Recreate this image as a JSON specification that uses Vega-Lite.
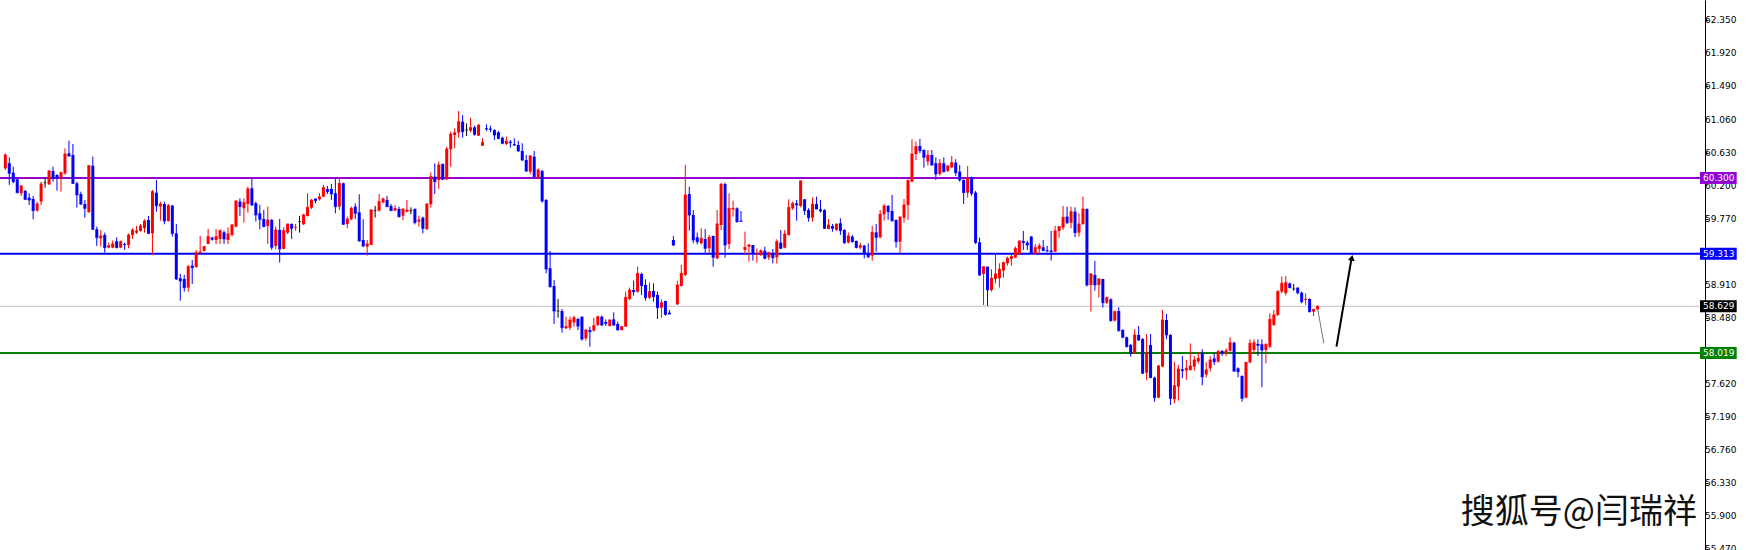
{
"$schema":"https://vega.github.io/schema/vega-lite/v6.json",
"width":1705,"height":550,
"autosize":{"type":"none"},
"padding":{"left":0,"top":0,"right":41,"bottom":0},
"background":"#FFFFFF",
"config":{"view":{"stroke":null}},
"datasets":{
"levels":[{"level":"60.300","p":60.3},{"level":"59.313","p":59.313},{"level":"58.629","p":58.629},{"level":"58.019","p":58.019}],
"ticks":[{"p":62.35},{"p":61.92},{"p":61.49},{"p":61.06},{"p":60.63},{"p":60.2},{"p":59.77},{"p":58.91},{"p":58.48},{"p":57.62},{"p":57.19},{"p":56.76},{"p":56.33},{"p":55.9},{"p":55.47}],
"candles":[
{"i":0,"o":60.425,"h":60.62,"l":60.403,"c":60.598},
{"i":1,"o":60.49,"h":60.568,"l":60.208,"c":60.36},
{"i":2,"o":60.368,"h":60.446,"l":60.229,"c":60.251},
{"i":3,"o":60.282,"h":60.294,"l":60.099,"c":60.108},
{"i":4,"o":60.099,"h":60.203,"l":60.065,"c":60.195},
{"i":5,"o":60.13,"h":60.143,"l":60.012,"c":60.021},
{"i":6,"o":60.043,"h":60.099,"l":59.947,"c":60.012},
{"i":7,"o":60.025,"h":60.065,"l":59.761,"c":59.874},
{"i":8,"o":59.874,"h":59.991,"l":59.86,"c":59.96},
{"i":9,"o":59.991,"h":60.251,"l":59.947,"c":60.221},
{"i":10,"o":60.238,"h":60.308,"l":60.173,"c":60.238},
{"i":11,"o":60.216,"h":60.403,"l":60.208,"c":60.39},
{"i":12,"o":60.39,"h":60.446,"l":60.251,"c":60.294},
{"i":13,"o":60.338,"h":60.347,"l":60.134,"c":60.308},
{"i":14,"o":60.303,"h":60.381,"l":60.121,"c":60.368},
{"i":15,"o":60.36,"h":60.685,"l":60.338,"c":60.611},
{"i":16,"o":60.62,"h":60.785,"l":60.577,"c":60.585},
{"i":17,"o":60.598,"h":60.741,"l":60.221,"c":60.229},
{"i":18,"o":60.229,"h":60.251,"l":59.913,"c":60.078},
{"i":19,"o":60.091,"h":60.121,"l":59.947,"c":59.96},
{"i":20,"o":59.96,"h":60.012,"l":59.782,"c":59.904},
{"i":21,"o":59.852,"h":60.468,"l":59.848,"c":60.459},
{"i":22,"o":60.459,"h":60.577,"l":59.622,"c":59.631},
{"i":23,"o":59.631,"h":59.665,"l":59.414,"c":59.522},
{"i":24,"o":59.513,"h":59.622,"l":59.405,"c":59.544},
{"i":25,"o":59.557,"h":59.587,"l":59.327,"c":59.392},
{"i":26,"o":59.392,"h":59.457,"l":59.383,"c":59.418},
{"i":27,"o":59.392,"h":59.483,"l":59.383,"c":59.44},
{"i":28,"o":59.474,"h":59.526,"l":59.383,"c":59.392},
{"i":29,"o":59.392,"h":59.483,"l":59.383,"c":59.47},
{"i":30,"o":59.44,"h":59.457,"l":59.361,"c":59.431},
{"i":31,"o":59.427,"h":59.578,"l":59.383,"c":59.557},
{"i":32,"o":59.557,"h":59.644,"l":59.505,"c":59.622},
{"i":33,"o":59.587,"h":59.674,"l":59.57,"c":59.609},
{"i":34,"o":59.609,"h":59.7,"l":59.6,"c":59.674},
{"i":35,"o":59.644,"h":59.761,"l":59.587,"c":59.739},
{"i":36,"o":59.752,"h":59.804,"l":59.57,"c":59.578},
{"i":37,"o":59.578,"h":60.143,"l":59.296,"c":60.121},
{"i":38,"o":60.108,"h":60.273,"l":59.86,"c":59.939},
{"i":39,"o":59.926,"h":59.991,"l":59.743,"c":59.96},
{"i":40,"o":59.96,"h":59.991,"l":59.696,"c":59.739},
{"i":41,"o":59.739,"h":59.96,"l":59.73,"c":59.939},
{"i":42,"o":59.939,"h":59.947,"l":59.535,"c":59.578},
{"i":43,"o":59.578,"h":59.7,"l":58.971,"c":58.984},
{"i":44,"o":58.993,"h":59.049,"l":58.702,"c":58.958},
{"i":45,"o":58.984,"h":59.036,"l":58.819,"c":58.871},
{"i":46,"o":58.871,"h":59.166,"l":58.819,"c":59.144},
{"i":47,"o":59.158,"h":59.231,"l":58.919,"c":59.131},
{"i":48,"o":59.136,"h":59.361,"l":59.136,"c":59.327},
{"i":49,"o":59.318,"h":59.544,"l":59.318,"c":59.335},
{"i":50,"o":59.349,"h":59.414,"l":59.34,"c":59.405},
{"i":51,"o":59.44,"h":59.635,"l":59.44,"c":59.535},
{"i":52,"o":59.522,"h":59.535,"l":59.483,"c":59.501},
{"i":53,"o":59.492,"h":59.631,"l":59.436,"c":59.535},
{"i":54,"o":59.505,"h":59.631,"l":59.44,"c":59.613},
{"i":55,"o":59.592,"h":59.613,"l":59.44,"c":59.505},
{"i":56,"o":59.492,"h":59.657,"l":59.44,"c":59.57},
{"i":57,"o":59.557,"h":59.7,"l":59.535,"c":59.687},
{"i":58,"o":59.666,"h":60.004,"l":59.657,"c":60.0},
{"i":59,"o":59.991,"h":60.034,"l":59.804,"c":59.926},
{"i":60,"o":59.904,"h":60.034,"l":59.718,"c":59.978},
{"i":61,"o":59.961,"h":60.186,"l":59.848,"c":60.156},
{"i":62,"o":60.165,"h":60.295,"l":59.935,"c":59.948},
{"i":63,"o":59.969,"h":59.991,"l":59.731,"c":59.818},
{"i":64,"o":59.839,"h":59.948,"l":59.631,"c":59.761},
{"i":65,"o":59.765,"h":59.883,"l":59.657,"c":59.666},
{"i":66,"o":59.674,"h":59.926,"l":59.44,"c":59.752},
{"i":67,"o":59.752,"h":59.765,"l":59.362,"c":59.397},
{"i":68,"o":59.414,"h":59.666,"l":59.371,"c":59.622},
{"i":69,"o":59.622,"h":59.765,"l":59.197,"c":59.375},
{"i":70,"o":59.375,"h":59.657,"l":59.371,"c":59.613},
{"i":71,"o":59.587,"h":59.7,"l":59.57,"c":59.7},
{"i":72,"o":59.7,"h":59.709,"l":59.505,"c":59.644},
{"i":73,"o":59.653,"h":59.7,"l":59.613,"c":59.657},
{"i":74,"o":59.731,"h":59.804,"l":59.587,"c":59.731},
{"i":75,"o":59.696,"h":59.831,"l":59.687,"c":59.818},
{"i":76,"o":59.804,"h":60.1,"l":59.796,"c":59.917},
{"i":77,"o":59.913,"h":60.021,"l":59.896,"c":60.013},
{"i":78,"o":60.03,"h":60.034,"l":59.969,"c":60.004},
{"i":79,"o":60.021,"h":60.1,"l":60.004,"c":60.052},
{"i":80,"o":60.056,"h":60.208,"l":60.047,"c":60.173},
{"i":81,"o":60.156,"h":60.195,"l":60.091,"c":60.121},
{"i":82,"o":60.156,"h":60.221,"l":60.013,"c":60.091},
{"i":83,"o":60.1,"h":60.308,"l":59.839,"c":59.926},
{"i":84,"o":59.926,"h":60.308,"l":59.883,"c":60.23},
{"i":85,"o":60.23,"h":60.238,"l":59.687,"c":59.696},
{"i":86,"o":59.7,"h":59.796,"l":59.644,"c":59.765},
{"i":87,"o":59.761,"h":59.926,"l":59.752,"c":59.904},
{"i":88,"o":59.926,"h":59.969,"l":59.765,"c":59.839},
{"i":89,"o":59.852,"h":60.087,"l":59.47,"c":59.479},
{"i":90,"o":59.492,"h":59.761,"l":59.397,"c":59.414},
{"i":91,"o":59.405,"h":59.492,"l":59.288,"c":59.44},
{"i":92,"o":59.427,"h":59.891,"l":59.427,"c":59.883},
{"i":93,"o":59.874,"h":59.935,"l":59.783,"c":59.874},
{"i":94,"o":59.874,"h":60.091,"l":59.861,"c":59.991},
{"i":95,"o":59.982,"h":60.043,"l":59.969,"c":60.026},
{"i":96,"o":60.013,"h":60.065,"l":59.917,"c":59.926},
{"i":97,"o":59.935,"h":59.961,"l":59.87,"c":59.874},
{"i":98,"o":59.874,"h":59.948,"l":59.87,"c":59.9},
{"i":99,"o":59.896,"h":59.926,"l":59.783,"c":59.796},
{"i":100,"o":59.808,"h":59.903,"l":59.752,"c":59.895},
{"i":101,"o":59.86,"h":60.012,"l":59.851,"c":59.882},
{"i":102,"o":59.873,"h":59.916,"l":59.825,"c":59.873},
{"i":103,"o":59.895,"h":59.903,"l":59.695,"c":59.721},
{"i":104,"o":59.73,"h":59.808,"l":59.665,"c":59.752},
{"i":105,"o":59.782,"h":59.795,"l":59.578,"c":59.643},
{"i":106,"o":59.634,"h":59.969,"l":59.621,"c":59.96},
{"i":107,"o":59.955,"h":60.372,"l":59.912,"c":60.316},
{"i":108,"o":60.316,"h":60.489,"l":60.09,"c":60.251},
{"i":109,"o":60.272,"h":60.511,"l":60.155,"c":60.468},
{"i":110,"o":60.481,"h":60.489,"l":60.272,"c":60.281},
{"i":111,"o":60.281,"h":60.706,"l":60.272,"c":60.676},
{"i":112,"o":60.672,"h":60.902,"l":60.446,"c":60.871},
{"i":113,"o":60.858,"h":60.945,"l":60.685,"c":60.889},
{"i":114,"o":60.889,"h":61.171,"l":60.823,"c":61.032},
{"i":115,"o":61.032,"h":61.119,"l":60.823,"c":60.902},
{"i":116,"o":60.923,"h":61.01,"l":60.845,"c":60.923},
{"i":117,"o":60.915,"h":61.084,"l":60.893,"c":60.954},
{"i":118,"o":60.958,"h":60.98,"l":60.85,"c":60.867},
{"i":119,"o":60.85,"h":60.997,"l":60.845,"c":60.988},
{"i":120,"o":60.719,"h":60.815,"l":60.719,"c":60.763},
{"i":121,"o":60.945,"h":60.997,"l":60.91,"c":60.936},
{"i":122,"o":60.941,"h":60.98,"l":60.893,"c":60.932},
{"i":123,"o":60.923,"h":60.936,"l":60.793,"c":60.858},
{"i":124,"o":60.893,"h":60.91,"l":60.802,"c":60.815},
{"i":125,"o":60.823,"h":60.837,"l":60.737,"c":60.75},
{"i":126,"o":60.741,"h":60.837,"l":60.728,"c":60.78},
{"i":127,"o":60.771,"h":60.793,"l":60.693,"c":60.758},
{"i":128,"o":60.737,"h":60.815,"l":60.715,"c":60.728},
{"i":129,"o":60.728,"h":60.784,"l":60.641,"c":60.65},
{"i":130,"o":60.65,"h":60.75,"l":60.52,"c":60.533},
{"i":131,"o":60.533,"h":60.598,"l":60.381,"c":60.389},
{"i":132,"o":60.381,"h":60.598,"l":60.346,"c":60.585},
{"i":133,"o":60.576,"h":60.65,"l":60.303,"c":60.316},
{"i":134,"o":60.303,"h":60.424,"l":60.285,"c":60.403},
{"i":135,"o":60.389,"h":60.403,"l":59.977,"c":59.999},
{"i":136,"o":60.012,"h":60.025,"l":59.057,"c":59.114},
{"i":137,"o":59.123,"h":59.348,"l":58.871,"c":58.884},
{"i":138,"o":58.892,"h":58.97,"l":58.397,"c":58.567},
{"i":139,"o":58.567,"h":58.723,"l":58.48,"c":58.567},
{"i":140,"o":58.567,"h":58.593,"l":58.285,"c":58.35},
{"i":141,"o":58.341,"h":58.493,"l":58.332,"c":58.363},
{"i":142,"o":58.35,"h":58.493,"l":58.319,"c":58.45},
{"i":143,"o":58.419,"h":58.506,"l":58.363,"c":58.48},
{"i":144,"o":58.463,"h":58.48,"l":58.319,"c":58.371},
{"i":145,"o":58.493,"h":58.493,"l":58.18,"c":58.202},
{"i":146,"o":58.211,"h":58.332,"l":58.18,"c":58.319},
{"i":147,"o":58.319,"h":58.363,"l":58.102,"c":58.298},
{"i":148,"o":58.311,"h":58.48,"l":58.298,"c":58.376},
{"i":149,"o":58.384,"h":58.506,"l":58.371,"c":58.493},
{"i":150,"o":58.493,"h":58.506,"l":58.372,"c":58.385},
{"i":151,"o":58.424,"h":58.458,"l":58.372,"c":58.406},
{"i":152,"o":58.372,"h":58.458,"l":58.363,"c":58.45},
{"i":153,"o":58.458,"h":58.549,"l":58.372,"c":58.385},
{"i":154,"o":58.398,"h":58.428,"l":58.319,"c":58.319},
{"i":155,"o":58.319,"h":58.37,"l":58.315,"c":58.363},
{"i":156,"o":58.363,"h":58.818,"l":58.363,"c":58.745},
{"i":157,"o":58.723,"h":58.871,"l":58.71,"c":58.84},
{"i":158,"o":58.84,"h":58.962,"l":58.766,"c":58.818},
{"i":159,"o":58.818,"h":59.144,"l":58.805,"c":59.057},
{"i":160,"o":59.049,"h":59.066,"l":58.775,"c":58.897},
{"i":161,"o":58.905,"h":58.979,"l":58.701,"c":58.74},
{"i":162,"o":58.74,"h":58.936,"l":58.723,"c":58.818},
{"i":163,"o":58.827,"h":58.927,"l":58.688,"c":58.753},
{"i":164,"o":58.775,"h":58.818,"l":58.463,"c":58.61},
{"i":165,"o":58.61,"h":58.719,"l":58.48,"c":58.675},
{"i":166,"o":58.697,"h":58.701,"l":58.506,"c":58.523},
{"i":167,"o":58.545,"h":58.58,"l":58.523,"c":58.528},
{"i":168,"o":59.491,"h":59.543,"l":59.413,"c":59.426},
{"i":169,"o":58.654,"h":58.962,"l":58.645,"c":58.905},
{"i":170,"o":58.892,"h":59.166,"l":58.884,"c":59.057},
{"i":171,"o":59.036,"h":60.468,"l":59.023,"c":60.077},
{"i":172,"o":60.09,"h":60.186,"l":59.613,"c":59.817},
{"i":173,"o":59.817,"h":59.882,"l":59.448,"c":59.491},
{"i":174,"o":59.526,"h":59.587,"l":59.435,"c":59.47},
{"i":175,"o":59.448,"h":59.643,"l":59.435,"c":59.513},
{"i":176,"o":59.504,"h":59.634,"l":59.326,"c":59.383},
{"i":177,"o":59.383,"h":59.556,"l":59.318,"c":59.526},
{"i":178,"o":59.543,"h":59.548,"l":59.144,"c":59.266},
{"i":179,"o":59.253,"h":59.882,"l":59.24,"c":59.7},
{"i":180,"o":59.687,"h":60.229,"l":59.621,"c":60.22},
{"i":181,"o":60.22,"h":60.238,"l":59.261,"c":59.426},
{"i":182,"o":59.439,"h":60.099,"l":59.374,"c":59.903},
{"i":183,"o":59.89,"h":60.003,"l":59.795,"c":59.903},
{"i":184,"o":59.903,"h":59.916,"l":59.717,"c":59.73},
{"i":185,"o":59.743,"h":59.869,"l":59.73,"c":59.734},
{"i":186,"o":59.361,"h":59.6,"l":59.305,"c":59.396},
{"i":187,"o":59.404,"h":59.439,"l":59.209,"c":59.426},
{"i":188,"o":59.426,"h":59.426,"l":59.222,"c":59.326},
{"i":189,"o":59.309,"h":59.383,"l":59.196,"c":59.318},
{"i":190,"o":59.296,"h":59.37,"l":59.283,"c":59.352},
{"i":191,"o":59.352,"h":59.404,"l":59.24,"c":59.253},
{"i":192,"o":59.266,"h":59.339,"l":59.231,"c":59.326},
{"i":193,"o":59.309,"h":59.374,"l":59.187,"c":59.261},
{"i":194,"o":59.266,"h":59.5,"l":59.187,"c":59.47},
{"i":195,"o":59.456,"h":59.621,"l":59.374,"c":59.383},
{"i":196,"o":59.391,"h":59.621,"l":59.383,"c":59.569},
{"i":197,"o":59.556,"h":60.021,"l":59.548,"c":59.916},
{"i":198,"o":59.903,"h":59.99,"l":59.882,"c":59.969},
{"i":199,"o":59.969,"h":60.012,"l":59.743,"c":59.947},
{"i":200,"o":59.934,"h":60.268,"l":59.917,"c":60.26},
{"i":201,"o":60.021,"h":60.025,"l":59.817,"c":59.874},
{"i":202,"o":59.882,"h":59.904,"l":59.73,"c":59.782},
{"i":203,"o":59.782,"h":60.047,"l":59.73,"c":59.96},
{"i":204,"o":59.96,"h":60.056,"l":59.891,"c":59.895},
{"i":205,"o":59.891,"h":60.012,"l":59.848,"c":59.869},
{"i":206,"o":59.882,"h":59.891,"l":59.635,"c":59.644},
{"i":207,"o":59.635,"h":59.765,"l":59.631,"c":59.687},
{"i":208,"o":59.674,"h":59.7,"l":59.6,"c":59.644},
{"i":209,"o":59.622,"h":59.7,"l":59.613,"c":59.7},
{"i":210,"o":59.709,"h":59.774,"l":59.557,"c":59.613},
{"i":211,"o":59.622,"h":59.631,"l":59.44,"c":59.457},
{"i":212,"o":59.457,"h":59.587,"l":59.448,"c":59.544},
{"i":213,"o":59.535,"h":59.557,"l":59.457,"c":59.47},
{"i":214,"o":59.479,"h":59.483,"l":59.383,"c":59.392},
{"i":215,"o":59.392,"h":59.457,"l":59.37,"c":59.418},
{"i":216,"o":59.418,"h":59.427,"l":59.253,"c":59.318},
{"i":217,"o":59.318,"h":59.448,"l":59.253,"c":59.275},
{"i":218,"o":59.288,"h":59.674,"l":59.222,"c":59.591},
{"i":219,"o":59.591,"h":59.7,"l":59.34,"c":59.526},
{"i":220,"o":59.526,"h":59.882,"l":59.513,"c":59.826},
{"i":221,"o":59.826,"h":59.96,"l":59.743,"c":59.934},
{"i":222,"o":59.934,"h":59.947,"l":59.752,"c":59.86},
{"i":223,"o":59.869,"h":60.078,"l":59.73,"c":59.743},
{"i":224,"o":59.752,"h":59.761,"l":59.392,"c":59.47},
{"i":225,"o":59.47,"h":59.795,"l":59.318,"c":59.791},
{"i":226,"o":59.782,"h":60.025,"l":59.717,"c":59.947},
{"i":227,"o":59.947,"h":60.282,"l":59.752,"c":60.264},
{"i":228,"o":60.251,"h":60.802,"l":60.242,"c":60.611},
{"i":229,"o":60.611,"h":60.772,"l":60.533,"c":60.707},
{"i":230,"o":60.715,"h":60.807,"l":60.62,"c":60.655},
{"i":231,"o":60.663,"h":60.672,"l":60.433,"c":60.568},
{"i":232,"o":60.512,"h":60.663,"l":60.459,"c":60.598},
{"i":233,"o":60.598,"h":60.663,"l":60.459,"c":60.468},
{"i":234,"o":60.49,"h":60.568,"l":60.273,"c":60.351},
{"i":235,"o":60.351,"h":60.546,"l":60.329,"c":60.49},
{"i":236,"o":60.49,"h":60.568,"l":60.368,"c":60.381},
{"i":237,"o":60.39,"h":60.468,"l":60.377,"c":60.455},
{"i":238,"o":60.438,"h":60.585,"l":60.425,"c":60.498},
{"i":239,"o":60.498,"h":60.542,"l":60.325,"c":60.368},
{"i":240,"o":60.381,"h":60.468,"l":60.251,"c":60.273},
{"i":241,"o":60.273,"h":60.282,"l":59.96,"c":60.108},
{"i":242,"o":60.108,"h":60.455,"l":60.043,"c":60.294},
{"i":243,"o":60.308,"h":60.316,"l":60.065,"c":60.099},
{"i":244,"o":60.108,"h":60.13,"l":59.44,"c":59.457},
{"i":245,"o":59.461,"h":59.522,"l":59.023,"c":59.036},
{"i":246,"o":59.049,"h":59.144,"l":58.645,"c":59.144},
{"i":247,"o":59.144,"h":59.144,"l":58.632,"c":58.841},
{"i":248,"o":58.841,"h":59.11,"l":58.819,"c":58.993},
{"i":249,"o":58.984,"h":59.318,"l":58.927,"c":59.049},
{"i":250,"o":58.993,"h":59.188,"l":58.871,"c":59.11},
{"i":251,"o":59.093,"h":59.21,"l":59.001,"c":59.197},
{"i":252,"o":59.188,"h":59.275,"l":59.158,"c":59.253},
{"i":253,"o":59.244,"h":59.297,"l":59.158,"c":59.275},
{"i":254,"o":59.262,"h":59.405,"l":59.253,"c":59.383},
{"i":255,"o":59.31,"h":59.483,"l":59.297,"c":59.479},
{"i":256,"o":59.479,"h":59.609,"l":59.362,"c":59.457},
{"i":257,"o":59.457,"h":59.483,"l":59.362,"c":59.427},
{"i":258,"o":59.535,"h":59.544,"l":59.31,"c":59.318},
{"i":259,"o":59.31,"h":59.44,"l":59.305,"c":59.392},
{"i":260,"o":59.375,"h":59.448,"l":59.31,"c":59.414},
{"i":261,"o":59.396,"h":59.492,"l":59.35,"c":59.353},
{"i":262,"o":59.357,"h":59.414,"l":59.331,"c":59.349},
{"i":263,"o":59.353,"h":59.609,"l":59.223,"c":59.34},
{"i":264,"o":59.339,"h":59.674,"l":59.336,"c":59.609},
{"i":265,"o":59.608,"h":59.673,"l":59.52,"c":59.665},
{"i":266,"o":59.652,"h":59.934,"l":59.621,"c":59.786},
{"i":267,"o":59.795,"h":59.925,"l":59.7,"c":59.717},
{"i":268,"o":59.717,"h":59.925,"l":59.643,"c":59.86},
{"i":269,"o":59.86,"h":59.917,"l":59.527,"c":59.587},
{"i":270,"o":59.587,"h":59.838,"l":59.535,"c":59.7},
{"i":271,"o":59.7,"h":60.055,"l":59.687,"c":59.895},
{"i":272,"o":59.895,"h":59.903,"l":58.884,"c":58.906},
{"i":273,"o":58.906,"h":59.058,"l":58.559,"c":59.049},
{"i":274,"o":59.036,"h":59.218,"l":58.832,"c":58.906},
{"i":275,"o":58.906,"h":58.993,"l":58.741,"c":58.984},
{"i":276,"o":58.984,"h":58.984,"l":58.611,"c":58.676},
{"i":277,"o":58.676,"h":58.754,"l":58.659,"c":58.741},
{"i":278,"o":58.719,"h":58.732,"l":58.429,"c":58.442},
{"i":279,"o":58.442,"h":58.572,"l":58.429,"c":58.559},
{"i":280,"o":58.567,"h":58.615,"l":58.298,"c":58.311},
{"i":281,"o":58.32,"h":58.329,"l":58.212,"c":58.225},
{"i":282,"o":58.225,"h":58.233,"l":58.094,"c":58.103},
{"i":283,"o":58.125,"h":58.138,"l":57.973,"c":58.016},
{"i":284,"o":58.016,"h":58.329,"l":58.008,"c":58.255},
{"i":285,"o":58.255,"h":58.372,"l":58.177,"c":58.19},
{"i":286,"o":58.203,"h":58.212,"l":57.747,"c":57.756},
{"i":287,"o":57.764,"h":58.264,"l":57.669,"c":58.025},
{"i":288,"o":58.125,"h":58.268,"l":57.691,"c":57.699},
{"i":289,"o":57.699,"h":57.712,"l":57.387,"c":57.439},
{"i":290,"o":57.439,"h":57.864,"l":57.43,"c":57.851},
{"i":291,"o":57.843,"h":58.58,"l":57.834,"c":58.45},
{"i":292,"o":58.45,"h":58.528,"l":58.198,"c":58.255},
{"i":293,"o":58.255,"h":58.264,"l":57.343,"c":57.43},
{"i":294,"o":57.417,"h":57.908,"l":57.365,"c":57.595},
{"i":295,"o":57.582,"h":57.864,"l":57.4,"c":57.812},
{"i":296,"o":57.808,"h":57.981,"l":57.691,"c":57.791},
{"i":297,"o":57.791,"h":57.929,"l":57.669,"c":57.821},
{"i":298,"o":57.799,"h":58.146,"l":57.791,"c":57.851},
{"i":299,"o":57.843,"h":57.981,"l":57.791,"c":57.929},
{"i":300,"o":57.91,"h":58.03,"l":57.88,"c":57.95},
{"i":301,"o":58.02,"h":58.07,"l":57.6,"c":57.71},
{"i":302,"o":57.74,"h":57.9,"l":57.7,"c":57.8},
{"i":303,"o":57.82,"h":57.981,"l":57.777,"c":57.929},
{"i":304,"o":57.95,"h":58.016,"l":57.864,"c":57.907},
{"i":305,"o":57.907,"h":58.059,"l":57.894,"c":58.037},
{"i":306,"o":58.046,"h":58.059,"l":57.981,"c":58.016},
{"i":307,"o":58.016,"h":58.081,"l":57.981,"c":58.05},
{"i":308,"o":58.05,"h":58.224,"l":58.037,"c":58.154},
{"i":309,"o":58.154,"h":58.167,"l":57.773,"c":57.785},
{"i":310,"o":57.82,"h":57.833,"l":57.703,"c":57.777},
{"i":311,"o":57.72,"h":57.729,"l":57.386,"c":57.43},
{"i":312,"o":57.438,"h":57.907,"l":57.43,"c":57.898},
{"i":313,"o":57.898,"h":58.198,"l":57.885,"c":58.146},
{"i":314,"o":58.059,"h":58.198,"l":58.016,"c":58.154},
{"i":315,"o":58.137,"h":58.198,"l":57.981,"c":58.12},
{"i":316,"o":58.133,"h":58.198,"l":57.573,"c":58.059},
{"i":317,"o":58.059,"h":58.146,"l":57.885,"c":58.133},
{"i":318,"o":58.102,"h":58.536,"l":58.081,"c":58.458},
{"i":319,"o":58.385,"h":58.58,"l":58.372,"c":58.515},
{"i":320,"o":58.515,"h":58.84,"l":58.502,"c":58.819},
{"i":321,"o":58.819,"h":59.014,"l":58.797,"c":58.927},
{"i":322,"o":58.8,"h":59.022,"l":58.77,"c":58.936},
{"i":323,"o":58.927,"h":58.936,"l":58.862,"c":58.871},
{"i":324,"o":58.853,"h":58.918,"l":58.832,"c":58.853},
{"i":325,"o":58.871,"h":58.875,"l":58.784,"c":58.805},
{"i":326,"o":58.805,"h":58.819,"l":58.667,"c":58.688},
{"i":327,"o":58.71,"h":58.797,"l":58.645,"c":58.719},
{"i":328,"o":58.723,"h":58.732,"l":58.549,"c":58.558},
{"i":329,"o":58.558,"h":58.597,"l":58.502,"c":58.588},
{"i":330,"o":58.588,"h":58.635,"l":58.58,"c":58.629}
]
},
"layer":[
{"data":{"name":"levels"},
 "transform":[{"filter":"datum.level != '58.629'"}],
 "mark":{"type":"rule","strokeWidth":2},
 "encoding":{
  "y":{"field":"p","type":"quantitative","title":null,"scale":{"domain":[55.455,62.616],"nice":false,"zero":false},
   "axis":{"orient":"right","values":[62.35,61.92,61.49,61.06,60.63,60.2,59.77,58.91,58.48,57.62,57.19,56.76,56.33,55.9,55.47],
    "title":null,"grid":false,"domain":true,"ticks":true,"labels":false,"domainColor":"#000000","domainWidth":1,"tickColor":"#000000","tickSize":3,"tickWidth":1}},
  "stroke":{"field":"level","type":"nominal","scale":{"domain":["60.300","59.313","58.629","58.019"],"range":["#9400D3","#0000FF","#C0C0C0","#008000"]},"legend":null}
 }},
{"data":{"name":"levels"},
 "transform":[{"filter":"datum.level == '58.629'"}],
 "mark":{"type":"rule","strokeWidth":1},
 "encoding":{
  "y":{"field":"p","type":"quantitative","title":null},
  "stroke":{"field":"level","type":"nominal","legend":null}
 }},
{"data":{"name":"candles"},
 "mark":{"type":"rule","strokeWidth":1},
 "encoding":{
  "x":{"field":"i","type":"quantitative","scale":{"domain":[-0.08,426.17],"nice":false,"zero":false},"axis":null},
  "y":{"field":"l","type":"quantitative","title":null},
  "y2":{"field":"h"},
  "color":{"condition":[{"test":"datum.c > datum.o","value":"#FF0000"},{"test":"datum.c < datum.o","value":"#0000FF"}],"value":"#000000"}
 }},
{"data":{"name":"candles"},
 "mark":{"type":"bar","width":3},
 "encoding":{
  "x":{"field":"i","type":"quantitative","axis":null},
  "y":{"field":"o","type":"quantitative","title":null},
  "y2":{"field":"c"},
  "color":{"condition":[{"test":"datum.c > datum.o","value":"#FF0000"},{"test":"datum.c < datum.o","value":"#0000FF"}],"value":"#000000"}
 }},
{"data":{"name":"candles"},
 "mark":{"type":"tick","orient":"horizontal","size":3,"thickness":1},
 "encoding":{
  "x":{"field":"i","type":"quantitative","axis":null},
  "y":{"field":"c","type":"quantitative","title":null},
  "color":{"condition":[{"test":"datum.c > datum.o","value":"#FF0000"},{"test":"datum.c < datum.o","value":"#0000FF"}],"value":"#000000"}
 }},
{"data":{"values":[{"i":330,"p":58.601},{"i":331.58,"p":58.146}]},
 "mark":{"type":"line","stroke":"#777777","strokeWidth":1},
 "encoding":{
  "x":{"field":"i","type":"quantitative","axis":null},
  "y":{"field":"p","type":"quantitative","title":null}
 }},
{"data":{"values":[{"i":334.75,"p":58.102},{"i":338.6,"p":59.27}]},
 "mark":{"type":"line","stroke":"#000000","strokeWidth":2},
 "encoding":{
  "x":{"field":"i","type":"quantitative","axis":null},
  "y":{"field":"p","type":"quantitative","title":null}
 }},
{"data":{"values":[{"i":338.62,"p":59.26}]},
 "mark":{"type":"point","shape":"triangle-up","angle":10,"size":45,"filled":true,"color":"#000000","opacity":1},
 "encoding":{
  "x":{"field":"i","type":"quantitative","axis":null},
  "y":{"field":"p","type":"quantitative","title":null}
 }},
{"data":{"name":"ticks"},
 "mark":{"type":"text","align":"left","baseline":"middle","dx":5,"font":"DejaVu Sans","fontSize":9,"fill":"#000000"},
 "encoding":{
  "x":{"datum":426.17,"type":"quantitative","axis":null},
  "y":{"field":"p","type":"quantitative","title":null},
  "text":{"field":"p","type":"quantitative","format":".3f"}
 }},
{"data":{"name":"levels"},
 "mark":{"type":"rect","yOffset":-6,"y2Offset":6},
 "encoding":{
  "x":{"datum":426.17,"type":"quantitative","axis":null},
  "x2":{"datum":435.4},
  "y":{"field":"p","type":"quantitative","title":null},
  "y2":{"field":"p"},
  "fill":{"field":"level","type":"nominal","scale":{"domain":["60.300","59.313","58.629","58.019"],"range":["#9400D3","#0000FF","#000000","#008000"]},"legend":null}
 }},
{"data":{"name":"levels"},
 "mark":{"type":"text","align":"left","baseline":"middle","dx":3,"font":"DejaVu Sans","fontSize":9,"fill":"#FFFFFF"},
 "encoding":{
  "x":{"datum":426.17,"type":"quantitative","axis":null},
  "y":{"field":"p","type":"quantitative","title":null},
  "text":{"field":"level"}
 }},
{"data":{"values":[{"t":"搜狐号@闫瑞祥","i":425.4,"p":55.943}]},
 "mark":{"type":"text","align":"right","baseline":"middle","font":"Noto Sans CJK SC","fontSize":34,"fill":"#111111"},
 "encoding":{
  "x":{"field":"i","type":"quantitative","axis":null},
  "y":{"field":"p","type":"quantitative","title":null},
  "text":{"field":"t"}
 }}
]
}
